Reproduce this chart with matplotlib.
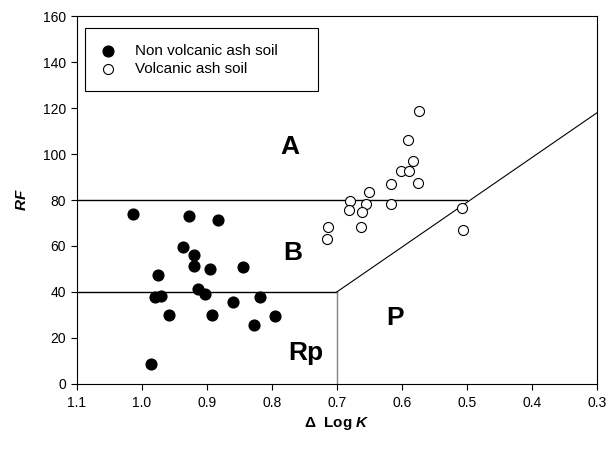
# RF vs delta Log K - volcanic / non volcanic ash soils
import matplotlib.pyplot as plt

plt.rcParams['font.family'] = ['Liberation Sans', 'DejaVu Sans']
plt.rcParams['mathtext.fontset'] = 'custom'
plt.rcParams['mathtext.it'] = 'Liberation Sans:italic:bold'
plt.rcParams['mathtext.rm'] = 'Liberation Sans:bold'

# Data
nonvol_dlogk = [1.013, 0.927, 0.882, 0.936, 0.920, 0.919, 0.895, 0.845, 0.975, 0.913,
                0.902, 0.980, 0.970, 0.818, 0.859, 0.958, 0.892, 0.795, 0.827, 0.986]
nonvol_rf = [73.8, 73.2, 71.4, 59.4, 56.1, 51.2, 49.9, 51.0, 47.3, 41.2,
             39.1, 37.7, 38.1, 38.0, 35.5, 30.0, 30.0, 29.4, 25.8, 8.8]

vol_dlogk = [0.573, 0.591, 0.583, 0.602, 0.589, 0.616, 0.575, 0.651, 0.679, 0.655,
             0.616, 0.682, 0.662, 0.508, 0.663, 0.506, 0.713, 0.715]
vol_rf = [118.7, 106.0, 96.8, 92.7, 92.7, 86.8, 87.3, 83.6, 79.6, 78.4,
          78.4, 75.5, 74.8, 76.7, 68.3, 67.0, 68.1, 63.0]

# boundaries between the zones
upper_x = [1.1, 0.5]
upper_y = [80, 80]
lower_x = [1.1, 0.7, 0.7]
lower_y = [40, 40, 0]
diag_x = [0.7, 0.3]
diag_y = [40, 118]

zones = ['A', 'B', 'Rp', 'P']
zone_x = [0.772, 0.767, 0.748, 0.611]
zone_y = [103, 57, 13.5, 28.7]

xticks = [1.1, 1.0, 0.9, 0.8, 0.7, 0.6, 0.5, 0.4, 0.3]
yticks = [0, 20, 40, 60, 80, 100, 120, 140, 160]

fig = plt.figure(figsize=(6.08, 4.5), dpi=100)
ax = fig.add_axes([0.126, 0.147, 0.856, 0.817])

ax.plot(upper_x, upper_y, color='black', lw=1)
ax.plot(lower_x[:2], lower_y[:2], color='black', lw=1)
ax.plot(lower_x[1:], lower_y[1:], color='grey', lw=1)
ax.plot(diag_x, diag_y, color='black', lw=0.8)

ax.scatter(nonvol_dlogk, nonvol_rf, s=60, color='black', zorder=3,
           label='Non volcanic ash soil')
ax.scatter(vol_dlogk, vol_rf, s=52, facecolors='white', edgecolors='black',
           linewidths=0.8, zorder=3, label='Volcanic ash soil')

for name, zx, zy in zip(zones, zone_x, zone_y):
    ax.text(zx, zy, name, fontsize=19, fontweight='bold', ha='center', va='center')

ax.set_xlim(1.1, 0.3)
ax.set_ylim(0, 160)
ax.set_xticks(xticks)
ax.set_xticklabels([f'{v:.1f}' for v in xticks])
ax.set_yticks(yticks)
ax.tick_params(labelsize=10, direction='out', length=4, width=0.8)
ax.tick_params(axis='x', pad=5)

ax.set_xlabel(r'$\mathit{\Delta}$  Log $\mathit{K}$', fontsize=11, fontweight='bold', labelpad=3)
ax.set_ylabel(r'$\mathit{RF}$', fontsize=11, labelpad=10)

leg = ax.legend(loc='upper left', bbox_to_anchor=(0.016, 0.80, 0.448, 0.167),
                mode='expand', borderaxespad=0,
                fontsize=11, fancybox=False, edgecolor='black', framealpha=1,
                handlelength=1.0, handletextpad=1.3, borderpad=1.0, labelspacing=0.3)
leg.get_frame().set_linewidth(0.8)

plt.savefig('out.png', dpi=100)
plt.close()
